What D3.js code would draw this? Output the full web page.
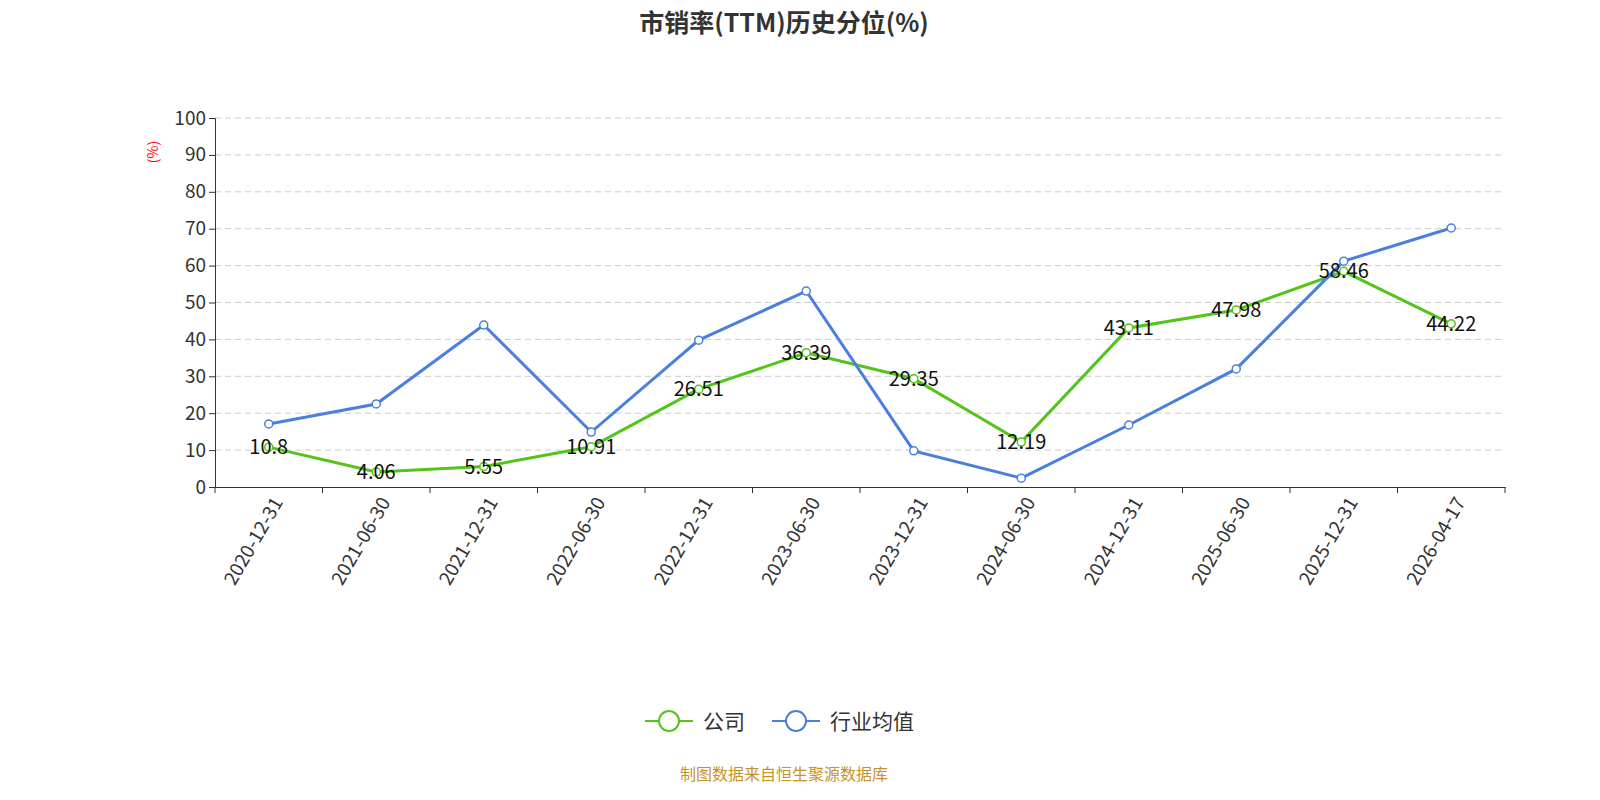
<!DOCTYPE html>
<html><head><meta charset="utf-8">
<script src="https://cdn.jsdelivr.net/npm/d3@7"></script>
<style>body{margin:0;background:#fff;font-family:"Noto Sans CJK SC","Noto Sans",sans-serif;}</style>
</head><body>
<svg id="chart" width="1600" height="800"></svg>
<script>
const dates = ['2020-12-31','2021-06-30','2021-12-31','2022-06-30','2022-12-31','2023-06-30','2023-12-31','2024-06-30','2024-12-31','2025-06-30','2025-12-31','2026-04-17'];
const company = [10.8,4.06,5.55,10.91,26.51,36.39,29.35,12.19,43.11,47.98,58.46,44.22];
const industry = [17.1,22.5,43.9,14.9,39.8,53.1,9.8,2.4,16.8,32.0,61.2,70.2];
const yTicks = [0,10,20,30,40,50,60,70,80,90,100];

const svg = d3.select('#chart');
const plotLeft = 215, plotRight = 1505, plotTop = 118, plotBottom = 487;
const x = d3.scaleBand().domain(dates).range([plotLeft, plotRight]);
const y = d3.scaleLinear().domain([0, 100]).range([plotBottom, plotTop]);
const cx = d => x(d) + x.bandwidth() / 2;

svg.append('text').attr('x', 784).attr('y', 32).attr('text-anchor', 'middle')
    .attr('font-size', 25).attr('font-weight', 'bold').attr('fill', '#333')
    .text('市销率(TTM)历史分位(%)');

// grid
svg.append('g').selectAll('line').data(yTicks.slice(1)).enter().append('line')
    .attr('x1', plotLeft).attr('x2', plotRight).attr('y1', d => y(d)).attr('y2', d => y(d))
    .attr('stroke', '#ccc').attr('stroke-dasharray', '6,4');

const yAxis = svg.append('g').attr('transform', `translate(${plotLeft},0)`)
    .call(d3.axisLeft(y).tickValues(yTicks).tickSize(6));
yAxis.selectAll('text').attr('font-size', 19).attr('fill', '#333').attr('font-family', '"Noto Sans CJK SC",sans-serif');
yAxis.selectAll('line,path').attr('stroke', '#333');

svg.append('text').attr('transform', 'translate(158,152) rotate(-90)')
    .attr('text-anchor', 'middle').attr('font-size', 14).attr('fill', 'red').text('(%)');

const xAxis = svg.append('g').attr('transform', `translate(0,${plotBottom})`)
    .call(d3.axisBottom(x).tickSize(6).tickSizeOuter(0));
xAxis.selectAll('.tick line').attr('x1', -x.bandwidth() / 2).attr('x2', -x.bandwidth() / 2);
xAxis.append('line').attr('x1', plotRight).attr('x2', plotRight).attr('y2', 6).attr('stroke', '#333');
xAxis.selectAll('line,path').attr('stroke', '#333');
xAxis.selectAll('text').attr('font-size', 19).attr('fill', '#333')
    .attr('font-family', '"Noto Sans CJK SC",sans-serif')
    .attr('text-anchor', 'end').attr('dx', '-0.3em').attr('dy', '0.6em')
    .attr('transform', 'rotate(-60)');

function series(vals, color) {
    const line = d3.line().x((d, i) => cx(dates[i])).y(d => y(d));
    svg.append('path').datum(vals).attr('d', line).attr('fill', 'none')
        .attr('stroke', color).attr('stroke-width', 3);
    svg.append('g').selectAll('circle').data(vals).enter().append('circle')
        .attr('cx', (d, i) => cx(dates[i])).attr('cy', d => y(d)).attr('r', 4)
        .attr('fill', '#fff').attr('stroke', color).attr('stroke-width', 1.5);
}
series(company, '#52c41a');
series(industry, '#4a7fe0');

svg.append('g').selectAll('text').data(company).enter().append('text')
    .attr('x', (d, i) => cx(dates[i])).attr('y', d => y(d) + 7)
    .attr('text-anchor', 'middle').attr('font-size', 20).attr('fill', '#111')
    .text(d => d);

// legend
const legend = [{name: '公司', color: '#52c41a', x: 645}, {name: '行业均值', color: '#4a7fe0', x: 772}];
legend.forEach(l => {
    const g = svg.append('g');
    g.append('line').attr('x1', l.x).attr('x2', l.x + 48).attr('y1', 721).attr('y2', 721)
        .attr('stroke', l.color).attr('stroke-width', 2);
    g.append('circle').attr('cx', l.x + 24).attr('cy', 721).attr('r', 10)
        .attr('fill', '#fff').attr('stroke', l.color).attr('stroke-width', 2);
    g.append('text').attr('x', l.x + 58).attr('y', 729).attr('font-size', 21).attr('fill', '#333').text(l.name);
});

svg.append('text').attr('x', 784).attr('y', 780).attr('text-anchor', 'middle')
    .attr('font-size', 16).attr('fill', '#c8922a').text('制图数据来自恒生聚源数据库');
</script>
</body></html>
